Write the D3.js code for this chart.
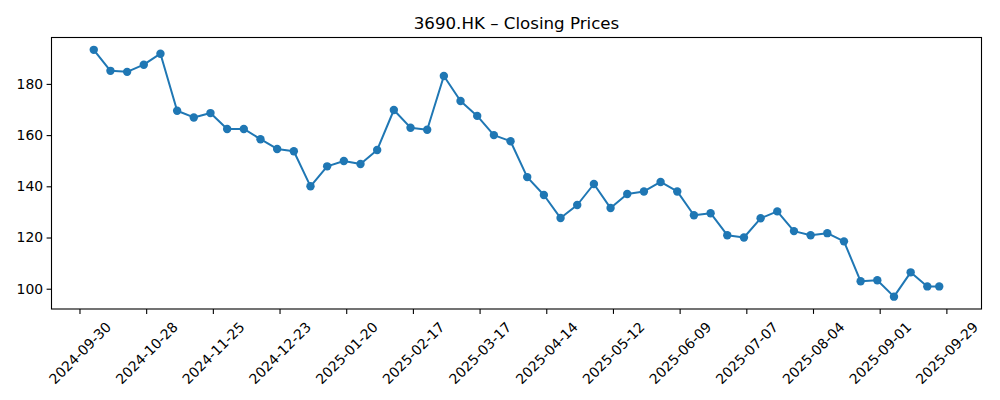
<!DOCTYPE html>
<html>
<head>
<meta charset="utf-8">
<script src="https://cdn.jsdelivr.net/npm/d3@7"></script>
<style>
  html, body { margin: 0; padding: 0; background: #fff; }
  svg { display: block; font-family: "DejaVu Sans", sans-serif; }
</style>
</head>
<body>
<svg id="chart" width="1000" height="400"></svg>
<script>
const dates = [
  "2024-10-06","2024-10-13","2024-10-20","2024-10-27","2024-11-03","2024-11-10","2024-11-17","2024-11-24",
  "2024-12-01","2024-12-08","2024-12-15","2024-12-22","2024-12-29","2025-01-05","2025-01-12","2025-01-19",
  "2025-01-26","2025-02-02","2025-02-09","2025-02-16","2025-02-23","2025-03-02","2025-03-09","2025-03-16",
  "2025-03-23","2025-03-30","2025-04-06","2025-04-13","2025-04-20","2025-04-27","2025-05-04","2025-05-11",
  "2025-05-18","2025-05-25","2025-06-01","2025-06-08","2025-06-15","2025-06-22","2025-06-29","2025-07-06",
  "2025-07-13","2025-07-20","2025-07-27","2025-08-03","2025-08-10","2025-08-17","2025-08-24","2025-08-31",
  "2025-09-07","2025-09-14","2025-09-21","2025-09-26"
];
const closes = [
  193.3,185.1,184.7,187.5,191.8,169.5,166.9,168.6,162.4,162.4,
  158.4,154.6,153.7,140.0,147.8,149.9,148.7,154.2,169.8,162.9,
  162.1,183.1,173.3,167.5,160.0,157.6,143.6,136.6,127.6,132.7,
  140.9,131.5,137.0,138.0,141.7,138.0,128.7,129.5,120.9,120.0,
  127.5,130.2,122.5,120.9,121.7,118.5,102.9,103.3,96.9,106.4,
  100.9,100.9
];
const xTickLabels = ["2024-09-30","2024-10-28","2024-11-25","2024-12-23","2025-01-20","2025-02-17",
  "2025-03-17","2025-04-14","2025-05-12","2025-06-09","2025-07-07","2025-08-04","2025-09-01","2025-09-29"];
const yTickValues = [100,120,140,160,180];
const title = "3690.HK \u2013 Closing Prices";

(function () {
const parse = d3.utcParse("%Y-%m-%d");
const data = dates.map((d, i) => ({ date: parse(d), value: closes[i] }));

const mLeft = 51.5, mRight = 981.5, mTop = 37.5, mBottom = 309;
const svg = d3.select("#chart");

// matplotlib-like 5% margins
const xExt = d3.extent(data, d => d.date);
const xSpan = xExt[1] - xExt[0];
const x = d3.scaleUtc()
  .domain([new Date(+xExt[0] - 0.05 * xSpan), new Date(+xExt[1] + 0.05 * xSpan)])
  .range([mLeft, mRight]);
const yExt = d3.extent(data, d => d.value);
const ySpan = yExt[1] - yExt[0];
const y = d3.scaleLinear()
  .domain([yExt[0] - 0.05 * ySpan, yExt[1] + 0.05 * ySpan])
  .range([mBottom, mTop]);

const tickColor = "#000";
const fontSize = 13.9;

// X axis
const xAxis = d3.axisBottom(x)
  .tickValues(xTickLabels.map(parse))
  .tickSize(4.9)
  .tickPadding(3.5)
  .tickFormat(d3.utcFormat("%Y-%m-%d"));
const gx = svg.append("g").attr("transform", `translate(0,${mBottom})`).call(xAxis);
gx.select(".domain").remove();
gx.selectAll(".tick line").attr("stroke", tickColor).attr("stroke-width", 1.1);
gx.selectAll(".tick text")
  .attr("font-size", fontSize)
  .attr("fill", "#000")
  .attr("font-family", "DejaVu Sans")
  .attr("text-anchor", "middle")
  .attr("dominant-baseline", "central")
  .attr("dy", null)
  .attr("y", 0)
  .attr("transform", "translate(0,44) rotate(-45)");

// Y axis
const yAxis = d3.axisLeft(y)
  .tickValues(yTickValues)
  .tickSize(4.9)
  .tickPadding(3.5)
  .tickFormat(d3.format("d"));
const gy = svg.append("g").attr("transform", `translate(${mLeft},0)`).call(yAxis);
gy.select(".domain").remove();
gy.selectAll(".tick line").attr("stroke", tickColor).attr("stroke-width", 1.1);
gy.selectAll(".tick text")
  .attr("font-size", fontSize)
  .attr("fill", "#000")
  .attr("font-family", "DejaVu Sans");

// Line
const line = d3.line().x(d => x(d.date)).y(d => y(d.value));
svg.append("path")
  .datum(data)
  .attr("d", line)
  .attr("fill", "none")
  .attr("stroke", "#1f77b4")
  .attr("stroke-width", 2)
  .attr("stroke-linejoin", "round")
  .attr("stroke-linecap", "square");

svg.append("g").selectAll("circle")
  .data(data)
  .join("circle")
  .attr("cx", d => x(d.date))
  .attr("cy", d => y(d.value))
  .attr("r", 4.2)
  .attr("fill", "#1f77b4");

// Frame
svg.append("rect")
  .attr("x", mLeft).attr("y", mTop)
  .attr("width", mRight - mLeft).attr("height", mBottom - mTop)
  .attr("fill", "none").attr("stroke", "#000").attr("stroke-width", 1.1);

// Title
svg.append("text")
  .attr("x", (mLeft + mRight) / 2)
  .attr("y", 28.5)
  .attr("text-anchor", "middle")
  .attr("font-size", 16.67)
  .attr("font-family", "DejaVu Sans")
  .attr("fill", "#000")
  .text(title);
})();
</script>
</body>
</html>
